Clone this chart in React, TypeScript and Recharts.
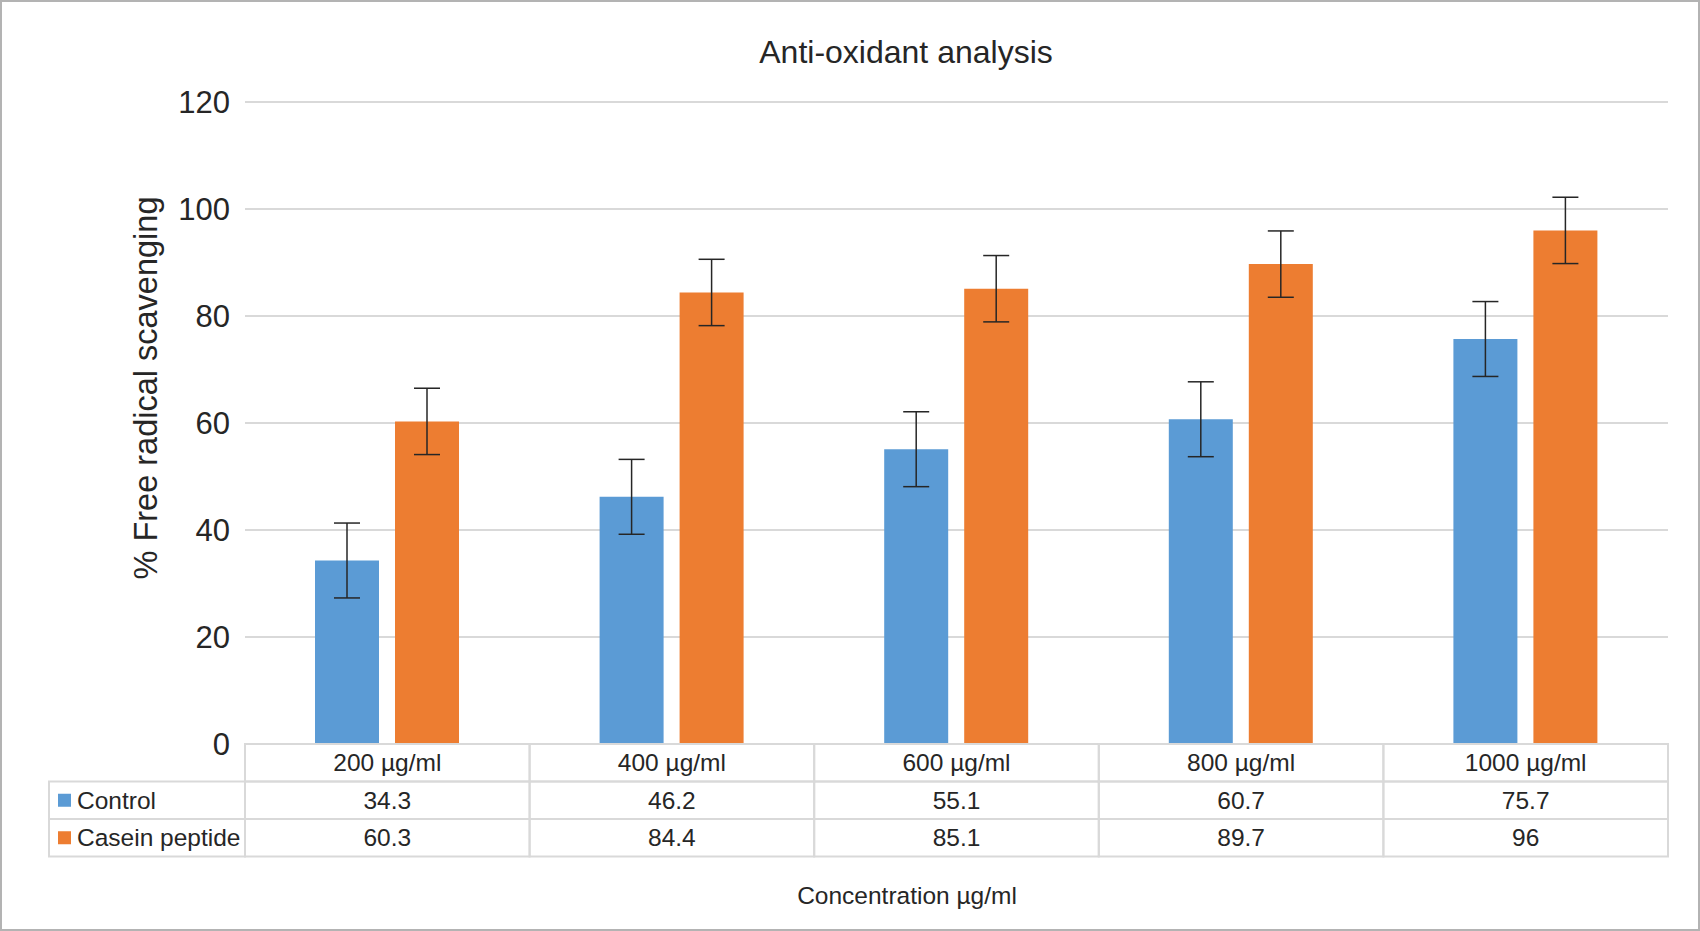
import React from 'react';
import { Bar, BarChart, CartesianGrid, ErrorBar, XAxis, YAxis } from 'recharts';

const categories = ['200 µg/ml', '400 µg/ml', '600 µg/ml', '800 µg/ml', '1000 µg/ml'];
const control = [34.3, 46.2, 55.1, 60.7, 75.7];
const casein = [60.3, 84.4, 85.1, 89.7, 96];
const controlErr = [7, 7, 7, 7, 7];
const caseinErr = [6.2, 6.2, 6.2, 6.2, 6.2];
const yTicks = [0, 20, 40, 60, 80, 100, 120];

const series = [
  { key: 'control', name: 'Control', color: '#5B9BD5', values: control },
  { key: 'casein', name: 'Casein peptide', color: '#ED7D31', values: casein },
];

const data = categories.map((name, i) => ({
  name,
  control: control[i],
  casein: casein[i],
  controlErr: controlErr[i],
  caseinErr: caseinErr[i],
}));

const W = 1700;
const H = 931;
const FONT = '"Liberation Sans", Arial, sans-serif';
const TEXT = '#262626';
const LINE = '#d9d9d9';
const PLOT_LEFT = 245;
const PLOT_RIGHT = 1668;
const PLOT_TOP = 102;
const PLOT_BOTTOM = 744;
const Y_AXIS_W = 100;
const X_AXIS_H = 112;
const BAND = (PLOT_RIGHT - PLOT_LEFT) / categories.length;
const ROW_H = 37.5;
const TABLE_LEFT = 49;

// x-axis ticks double as the data table columns
function TableTick(props: any) {
  const { x, y, index, payload } = props;
  const left = x - BAND / 2;
  const cellText = (cx: number, cy: number, s: string | number, anchor = 'middle') => (
    <text x={cx} y={cy} dy="0.35em" textAnchor={anchor} fontSize={24.5} fontFamily={FONT} fill={TEXT}>
      {s}
    </text>
  );
  return (
    <g>
      <rect x={left} y={y} width={BAND} height={ROW_H} fill="none" stroke={LINE} strokeWidth={2} />
      {cellText(x, y + ROW_H / 2, payload.value)}
      {series.map((s, r) => (
        <g key={s.key}>
          <rect x={left} y={y + ROW_H * (r + 1)} width={BAND} height={ROW_H} fill="none" stroke={LINE} strokeWidth={2} />
          {cellText(x, y + ROW_H * (r + 1.5), s.values[index])}
        </g>
      ))}
      {index === 0 &&
        series.map((s, r) => (
          <g key={'lg' + s.key}>
            <rect
              x={TABLE_LEFT}
              y={y + ROW_H * (r + 1)}
              width={left - TABLE_LEFT}
              height={ROW_H}
              fill="none"
              stroke={LINE}
              strokeWidth={2}
            />
            <rect x={58} y={y + ROW_H * (r + 1.5) - 6.5} width={13} height={13} fill={s.color} />
            {cellText(77, y + ROW_H * (r + 1.5), s.name, 'start')}
          </g>
        ))}
    </g>
  );
}

export default function App() {
  return (
    <div
      style={{
        position: 'absolute',
        left: 0,
        top: 0,
        width: W,
        height: H,
        boxSizing: 'border-box',
        border: '2px solid #b3b3b3',
        background: '#fff',
        fontFamily: FONT,
        color: TEXT,
      }}
    >
      <div style={{ position: 'absolute', left: 506 - 2, top: 36 - 2, width: 800, textAlign: 'center', fontSize: 32, lineHeight: '32px' }}>
        Anti-oxidant analysis
      </div>
      <div
        style={{
          position: 'absolute',
          left: 146 - 250 - 2,
          top: 388 - 16 - 2,
          width: 500,
          height: 32,
          lineHeight: '32px',
          fontSize: 32.5,
          textAlign: 'center',
          transform: 'rotate(-90deg)',
          whiteSpace: 'nowrap',
        }}
      >
        % Free radical scavenging
      </div>
      <div style={{ position: 'absolute', left: 507 - 2, top: 884 - 2, width: 800, textAlign: 'center', fontSize: 24.5, lineHeight: '24.5px' }}>
        Concentration µg/ml
      </div>
      <div style={{ position: 'absolute', left: -2, top: -2 }}>
        <BarChart
          width={W}
          height={H}
          data={data}
          margin={{
            top: PLOT_TOP,
            right: W - PLOT_RIGHT,
            left: PLOT_LEFT - Y_AXIS_W,
            bottom: H - PLOT_BOTTOM - X_AXIS_H,
          }}
          barSize={64}
          barGap={16}
        >
          <CartesianGrid vertical={false} stroke={LINE} strokeWidth={2} />
          <XAxis
            dataKey="name"
            axisLine={false}
            tickLine={false}
            tickSize={0}
            tickMargin={0}
            height={X_AXIS_H}
            interval={0}
            tick={<TableTick />}
          />
          <YAxis
            domain={[0, 120]}
            ticks={yTicks}
            axisLine={false}
            tickLine={false}
            tickSize={0}
            tickMargin={15}
            width={Y_AXIS_W}
            tick={{ fontSize: 31, fill: TEXT, fontFamily: FONT }}
          />
          {series.map((s) => (
            <Bar key={s.key} dataKey={s.key} name={s.name} fill={s.color} isAnimationActive={false}>
              <ErrorBar
                dataKey={s.key + 'Err'}
                width={13}
                stroke="#262626"
                strokeWidth={1.5}
                direction="y"
                isAnimationActive={false}
              />
            </Bar>
          ))}
        </BarChart>
      </div>
    </div>
  );
}
